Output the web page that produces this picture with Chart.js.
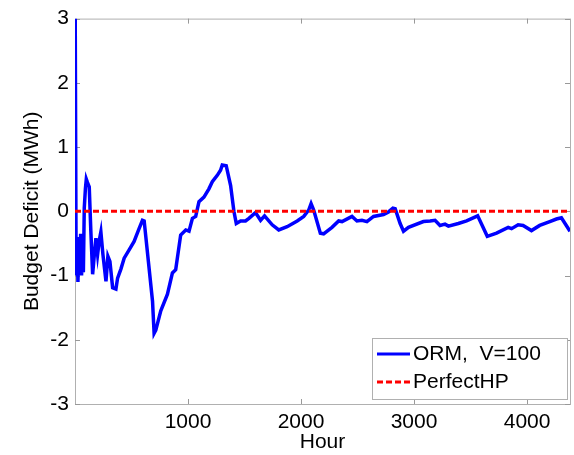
<!DOCTYPE html>
<html>
<head>
<meta charset="utf-8">
<title>Budget Deficit</title>
<script src="https://cdn.jsdelivr.net/npm/chart.js@4/dist/chart.umd.min.js"></script>
<style>
  html, body { margin: 0; padding: 0; background: #fff; }
  #wrap { width: 574px; height: 455px; position: relative; }
</style>
</head>
<body>
<div id="wrap"><canvas id="deficitChart"></canvas></div>
<script>
// ORM run (V=100): budget deficit over the simulation hours
const hours = [
    2, 10, 18, 26, 34, 42, 50, 58, 66, 74, 82, 92, 100, 110, 126, 140, 156, 170, 185, 200,
    215, 229, 247, 274, 291, 309, 333, 362, 377, 406, 435, 479, 523, 567, 597, 612, 686, 700,
    715, 759, 818, 862, 891, 935, 980, 1009, 1039, 1068, 1097, 1141, 1185, 1215, 1259, 1288,
    1303, 1338, 1377, 1406, 1427, 1465, 1509, 1539, 1597, 1642, 1677, 1745, 1803, 1877, 1966,
    2024, 2068, 2089, 2112, 2171, 2200, 2274, 2333, 2363, 2451, 2495, 2539, 2583, 2642, 2730,
    2774, 2813, 2833, 2877, 2907, 2951, 3083, 3142, 3186, 3230, 3274, 3304, 3392, 3465, 3563,
    3648, 3730, 3833, 3863, 3921, 3965, 4039, 4112, 4201, 4260, 4304, 4380
];
const ormDeficit = [
    3.0, -1.0, -0.4, -1.1, -0.5, -0.9, -0.35, -1.0, -0.6, -0.95, 0.05, 0.35, 0.5, 0.45, 0.38, -0.3, -0.98, -0.7, -0.42, -0.67,
    -0.45, -0.32, -0.67, -1.09, -0.7, -0.78, -1.19, -1.21, -1.04, -0.9, -0.73, -0.6, -0.47, -0.27, -0.14, -0.15, -1.4, -1.9,
    -1.85, -1.55, -1.29, -0.96, -0.91, -0.37, -0.29, -0.31, -0.11, -0.08, 0.15, 0.22, 0.35, 0.46, 0.56, 0.64,
    0.72, 0.71, 0.4, 0.0, -0.19, -0.15, -0.15, -0.11, -0.02, -0.14, -0.07, -0.21, -0.29, -0.24, -0.15,
    -0.08, 0.02, 0.12, 0.02, -0.34, -0.35, -0.25, -0.15, -0.16, -0.08, -0.15, -0.14, -0.16, -0.08, -0.05,
    -0.01, 0.05, 0.04, -0.19, -0.31, -0.25, -0.16, -0.15, -0.14, -0.22, -0.2, -0.23, -0.19, -0.15, -0.07,
    -0.39, -0.34, -0.25, -0.27, -0.21, -0.22, -0.3, -0.22, -0.16, -0.12, -0.1, -0.31
];

// Perfect hour-ahead prediction: zero deficit throughout
const perfectHours = [0, 4380];
const perfectDeficit = [0, 0];

const xTicks = [1000, 2000, 3000, 4000];
const yTicks = [-3, -2, -1, 0, 1, 2, 3];

const FONT = 'Liberation Sans, Arial, sans-serif';
const frameColor = '#b0b0b0';

// Box around the axes with short inward ticks on all four sides
const framePlugin = {
    id: 'frame',
    beforeDatasetsDraw(chart) {
        const { ctx, chartArea: a, scales } = chart;
        ctx.save();
        ctx.strokeStyle = frameColor;
        ctx.lineWidth = 1;
        ctx.strokeRect(a.left + 0.5, a.top + 0.5, a.right - a.left, a.bottom - a.top);
        ctx.strokeStyle = '#999';
        ctx.beginPath();
        xTicks.forEach(v => {
            const px = Math.round(scales.x.getPixelForValue(v)) + 0.5;
            ctx.moveTo(px, a.bottom); ctx.lineTo(px, a.bottom - 5);
            ctx.moveTo(px, a.top); ctx.lineTo(px, a.top + 5);
        });
        yTicks.forEach(v => {
            const py = Math.round(scales.y.getPixelForValue(v)) + 0.5;
            ctx.moveTo(a.left, py); ctx.lineTo(a.left + 5, py);
            ctx.moveTo(a.right, py); ctx.lineTo(a.right - 5, py);
        });
        ctx.stroke();
        ctx.restore();
    },
    // Legend box in the lower right corner
    afterDraw(chart) {
        const { ctx, chartArea: a } = chart;
        const box = { x: a.right - 198, y: a.bottom - 66, w: 195, h: 61 };
        ctx.save();
        ctx.fillStyle = '#fff';
        ctx.fillRect(box.x, box.y, box.w, box.h);
        ctx.strokeStyle = frameColor;
        ctx.lineWidth = 1;
        ctx.strokeRect(box.x + 0.5, box.y + 0.5, box.w, box.h);

        ctx.font = '21px ' + FONT;
        ctx.fillStyle = '#000';
        ctx.textBaseline = 'middle';
        chart.data.datasets.forEach((ds, i) => {
            const y = box.y + 16 + i * 28;
            ctx.beginPath();
            ctx.strokeStyle = ds.borderColor;
            ctx.lineWidth = 3;
            ctx.setLineDash(ds.borderDash || []);
            ctx.moveTo(box.x + 5, y);
            ctx.lineTo(box.x + 38, y);
            ctx.stroke();
            ctx.setLineDash([]);
            ctx.fillText(ds.label, box.x + 41, y);
        });
        ctx.restore();
    }
};

new Chart(document.getElementById('deficitChart'), {
    type: 'line',
    data: {
        datasets: [{
            label: 'ORM,  V=100',
            data: hours.map((h, i) => ({ x: h, y: ormDeficit[i] })),
            borderColor: '#0000ff',
            borderWidth: 3.5,
            pointRadius: 0,
            tension: 0,
            order: 1
        }, {
            label: 'PerfectHP',
            data: perfectHours.map((h, i) => ({ x: h, y: perfectDeficit[i] })),
            borderColor: '#ff0000',
            borderWidth: 3,
            borderDash: [6, 3],
            pointRadius: 0,
            order: 0
        }]
    },
    options: {
        responsive: true,
        maintainAspectRatio: false,
        animation: false,
        layout: { padding: { top: 15, right: 4, left: 0, bottom: 0 } },
        scales: {
            x: {
                type: 'linear',
                min: 0,
                max: 4380,
                afterBuildTicks: s => { s.ticks = xTicks.map(v => ({ value: v })); },
                afterFit: s => { s.height = 51; },
                grid: { display: false, drawTicks: false },
                border: { display: false },
                ticks: {
                    font: { family: FONT, size: 21 }, color: '#000', padding: 6, maxRotation: 0,
                    callback: v => String(v)
                },
                title: { display: true, text: 'Hour', font: { family: FONT, size: 21 }, color: '#000', padding: 0 }
            },
            y: {
                min: -3,
                max: 3,
                afterBuildTicks: s => { s.ticks = yTicks.map(v => ({ value: v })); },
                afterFit: s => { s.width = 75; },
                grid: { display: false, drawTicks: false },
                border: { display: false },
                ticks: { font: { family: FONT, size: 21 }, color: '#000', padding: 6, callback: v => String(v) },
                title: { display: true, text: 'Budget Deficit (MWh)', font: { family: FONT, size: 21 }, color: '#000', padding: { top: 20, bottom: 0 } }
            }
        },
        plugins: {
            legend: { display: false },
            tooltip: { enabled: false }
        }
    },
    plugins: [framePlugin]
});
</script>
</body>
</html>
